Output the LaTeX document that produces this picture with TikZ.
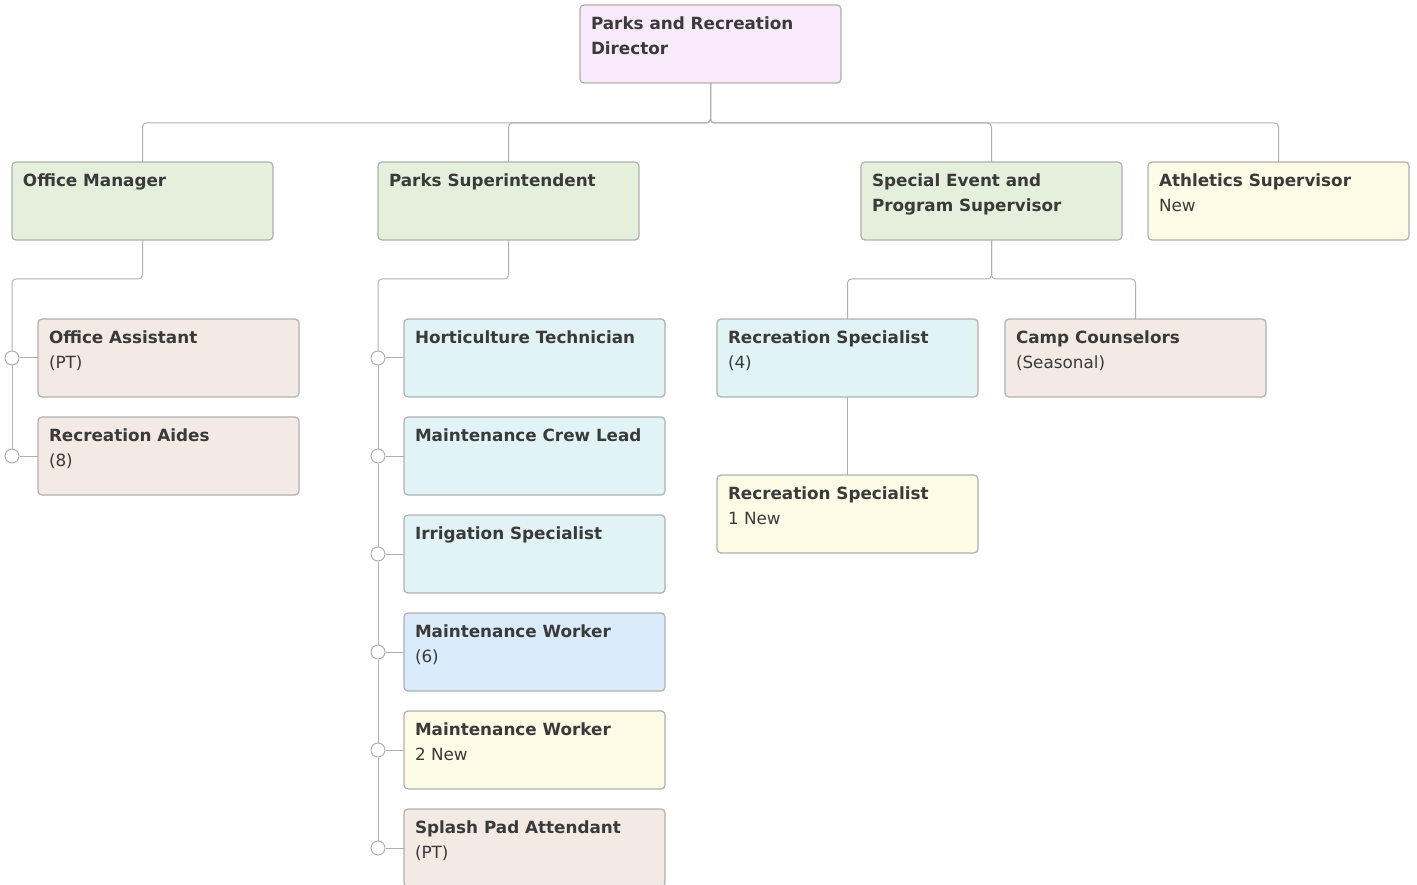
\documentclass[tikz,border=0pt]{standalone}
\usepackage{fontspec}
\setmainfont{DejaVu Sans}
\usetikzlibrary{positioning}
\definecolor{DirPink}{HTML}{F8EAFB}
\definecolor{MgrGreen}{HTML}{E4F0DC}
\definecolor{PtBrown}{HTML}{F3EAE4}
\definecolor{SpecTeal}{HTML}{E1F3F4}
\definecolor{WorkBlue}{HTML}{DAEBFC}
\definecolor{NewYellow}{HTML}{FDFBE6}
\definecolor{LineGrey}{HTML}{B0B0B0}
\definecolor{InkGrey}{HTML}{3A3A3A}
\newcommand\role[2]{\parbox[t][78pt][t]{239pt}{\fontsize{16.8}{25}\selectfont
  \rule{0pt}{24.5pt}{\bfseries #1\par}#2}}
\tikzset{
  post/.style={draw=LineGrey, line width=1.2pt, rounded corners=4pt, outer sep=0pt,
    inner xsep=11pt, inner ysep=0pt, anchor=north west, text=InkGrey},
  link/.style={draw=LineGrey, line width=1pt, rounded corners=4pt},
  knob/.style={circle, draw=LineGrey, fill=white, line width=1pt,
    minimum size=14pt, inner sep=0pt}
}

\begin{document}
\begin{tikzpicture}[x=1pt,y=-1pt]
  \clip (0,0) rectangle (1417,885);
  % director and first level
  \node[post, fill=DirPink] (dir) at (580,5) {\role{Parks and Recreation\\Director}{}};
  \node[post, fill=MgrGreen] (om) at (12,162) {\role{Office Manager}{}};
  \node[post, fill=MgrGreen] (ps) at (378,162) {\role{Parks Superintendent}{}};
  \node[post, fill=MgrGreen] (sp) at (861,162) {\role{Special Event and\\Program Supervisor}{}};
  \node[post, fill=NewYellow] (as) at (1148,162) {\role{Athletics Supervisor}{New}};
  \foreach \c in {om,ps,sp,as}
    \draw[link] (dir.south) -- ++(0,40) -| (\c.north);

  % office staff
  \node[post, fill=PtBrown] (oa) at (38,319) {\role{Office Assistant}{(PT)}};
  \node[post, fill=PtBrown, below=20pt of oa] (ra) {\role{Recreation Aides}{(8)}};

  % parks staff
  \node[post, fill=SpecTeal] (ht) at (404,319) {\role{Horticulture Technician}{}};
  \node[post, fill=SpecTeal, below=20pt of ht] (mcl) {\role{Maintenance Crew Lead}{}};
  \node[post, fill=SpecTeal, below=20pt of mcl] (is) {\role{Irrigation Specialist}{}};
  \node[post, fill=WorkBlue, below=20pt of is] (mw) {\role{Maintenance Worker}{(6)}};
  \node[post, fill=NewYellow, below=20pt of mw] (mwn) {\role{Maintenance Worker}{2 New}};
  \node[post, fill=PtBrown, below=20pt of mwn] (spa) {\role{Splash Pad Attendant}{(PT)}};

  % program staff
  \node[post, fill=SpecTeal] (rs) at (717,319) {\role{Recreation Specialist}{(4)}};
  \node[post, fill=PtBrown] (cc) at (1005,319) {\role{Camp Counselors}{(Seasonal)}};
  \node[post, fill=NewYellow, below=78pt of rs] (rsn) {\role{Recreation Specialist}{1 New}};
  \foreach \c in {rs,cc}
    \draw[link] (sp.south) -- ++(0,39) -| (\c.north);
  \draw[link] (rs) -- (rsn);

  % side trunks with knobs
  \foreach \n in {oa,ra,ht,mcl,is,mw,mwn,spa} {
    \node[knob] (k\n) at ([xshift=-26pt]\n.west) {};
    \draw[link] (k\n) -- (\n);
  }
  \draw[link] (om.south) -- ++(0,39) -| (koa.north);
  \draw[link] (koa) -- (kra);
  \draw[link] (ps.south) -- ++(0,39) -| (kht.north);
  \foreach \a/\b in {ht/mcl,mcl/is,is/mw,mw/mwn,mwn/spa}
    \draw[link] (k\a) -- (k\b);
\end{tikzpicture}
\end{document}
